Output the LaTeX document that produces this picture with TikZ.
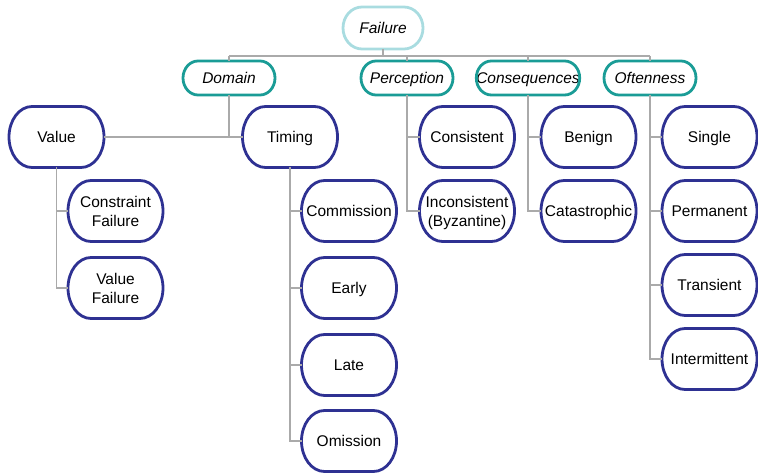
\documentclass[tikz,border=0pt]{standalone}
\usepackage{fontspec}
\setmainfont{Liberation Sans}
\definecolor{leafblue}{HTML}{2E3192}
\definecolor{catteal}{HTML}{1A9C96}
\definecolor{rootcyan}{HTML}{A9DCE0}
\definecolor{linkgray}{HTML}{AAAAAA}
% stadium outline with elliptic ends: node, style, x radius, y radius
\newcommand\stad[4]{\draw[#2] ([xshift=#3]#1.north west) -- ([xshift=-#3]#1.north east)
  arc[start angle=90,end angle=-90,x radius=#3,y radius=#4]
  -- ([xshift=#3]#1.south west)
  arc[start angle=270,end angle=90,x radius=#3,y radius=#4] -- cycle;}
\begin{document}
\begin{tikzpicture}[x=1pt,y=-1pt,
  every node/.style={font=\fontsize{15.5}{19}\selectfont, inner sep=0pt, outer sep=0pt, text depth=0pt},
  one/.style={text height=11pt},
  leaf/.style={minimum width=95pt, minimum height=61pt, align=center},
  cat/.style={one, minimum width=92pt, minimum height=34pt, font=\fontsize{15.5}{19}\selectfont\itshape},
  root/.style={one, minimum width=80pt, minimum height=42pt, font=\fontsize{15.5}{19}\selectfont\itshape},
  leafline/.style={draw=leafblue, line width=2.8pt},
  catline/.style={draw=catteal, line width=2.8pt},
  rootline/.style={draw=rootcyan, line width=2.8pt},
  link/.style={draw=linkgray, line width=1.2pt}]
\useasboundingbox (0,0) rectangle (758,473);

% root and categories
\node[root] (failure) at (383,28) {Failure};
\node[cat] (domain) at (229,78) {Domain};
\node[cat] (perception) at (407,78) {Perception};
\node[cat] (consequences) at (528,78) {Consequences};
\node[cat] (oftenness) at (650,78) {Oftenness};
\coordinate (bus) at (0,56);

% leaves
\node[leaf,one] (value) at (56.5,137) {Value};
\node[leaf,one] (timing) at (290,137) {Timing};
\node[leaf] (constraint) at (115.5,211) {Constraint\\Failure};
\node[leaf] (valuefail) at (115.5,288) {Value\\Failure};
\node[leaf,one] (commission) at (349,211) {Commission};
\node[leaf,one] (early) at (349,288) {Early};
\node[leaf,one] (late) at (349,365) {Late};
\node[leaf,one] (omission) at (349,441) {Omission};
\node[leaf,one] (consistent) at (467,137) {Consistent};
\node[leaf] (inconsistent) at (467,211) {Inconsistent\\(Byzantine)};
\node[leaf,one] (benign) at (588.5,137) {Benign};
\node[leaf,one] (catastrophic) at (588.5,211) {Catastrophic};
\node[leaf,one] (single) at (709.5,137) {Single};
\node[leaf,one] (permanent) at (709.5,211) {Permanent};
\node[leaf,one] (transient) at (709.5,285) {Transient};
\node[leaf,one] (intermittent) at (709.5,359) {Intermittent};

% outlines
\stad{failure}{rootline}{19pt}{21pt}
\foreach \n in {domain,perception,consequences,oftenness}
  {\stad{\n}{catline}{15pt}{17pt}}
\foreach \n in {value,timing,constraint,valuefail,commission,early,late,omission,
  consistent,inconsistent,benign,catastrophic,single,permanent,transient,intermittent}
  {\stad{\n}{leafline}{23pt}{30.5pt}}

% connectors
\draw[link] (failure.south) -- (failure.south |- bus);
\draw[link] (domain.north |- bus) -- (oftenness.north |- bus);
\foreach \n in {domain,perception,consequences,oftenness}
  \draw[link] (\n.north |- bus) -- (\n.north);
\draw[link] (value.east) -- (timing.west);
\draw[link] (domain.south) -- (domain.south |- value.east);
\foreach \n in {constraint,valuefail}
  \draw[link] (value.south) |- (\n.west);
\foreach \n in {commission,early,late,omission}
  \draw[link] (timing.south) |- (\n.west);
\foreach \n in {consistent,inconsistent}
  \draw[link] (perception.south) |- (\n.west);
\foreach \n in {benign,catastrophic}
  \draw[link] (consequences.south) |- (\n.west);
\foreach \n in {single,permanent,transient,intermittent}
  \draw[link] (oftenness.south) |- (\n.west);
\end{tikzpicture}
\end{document}
